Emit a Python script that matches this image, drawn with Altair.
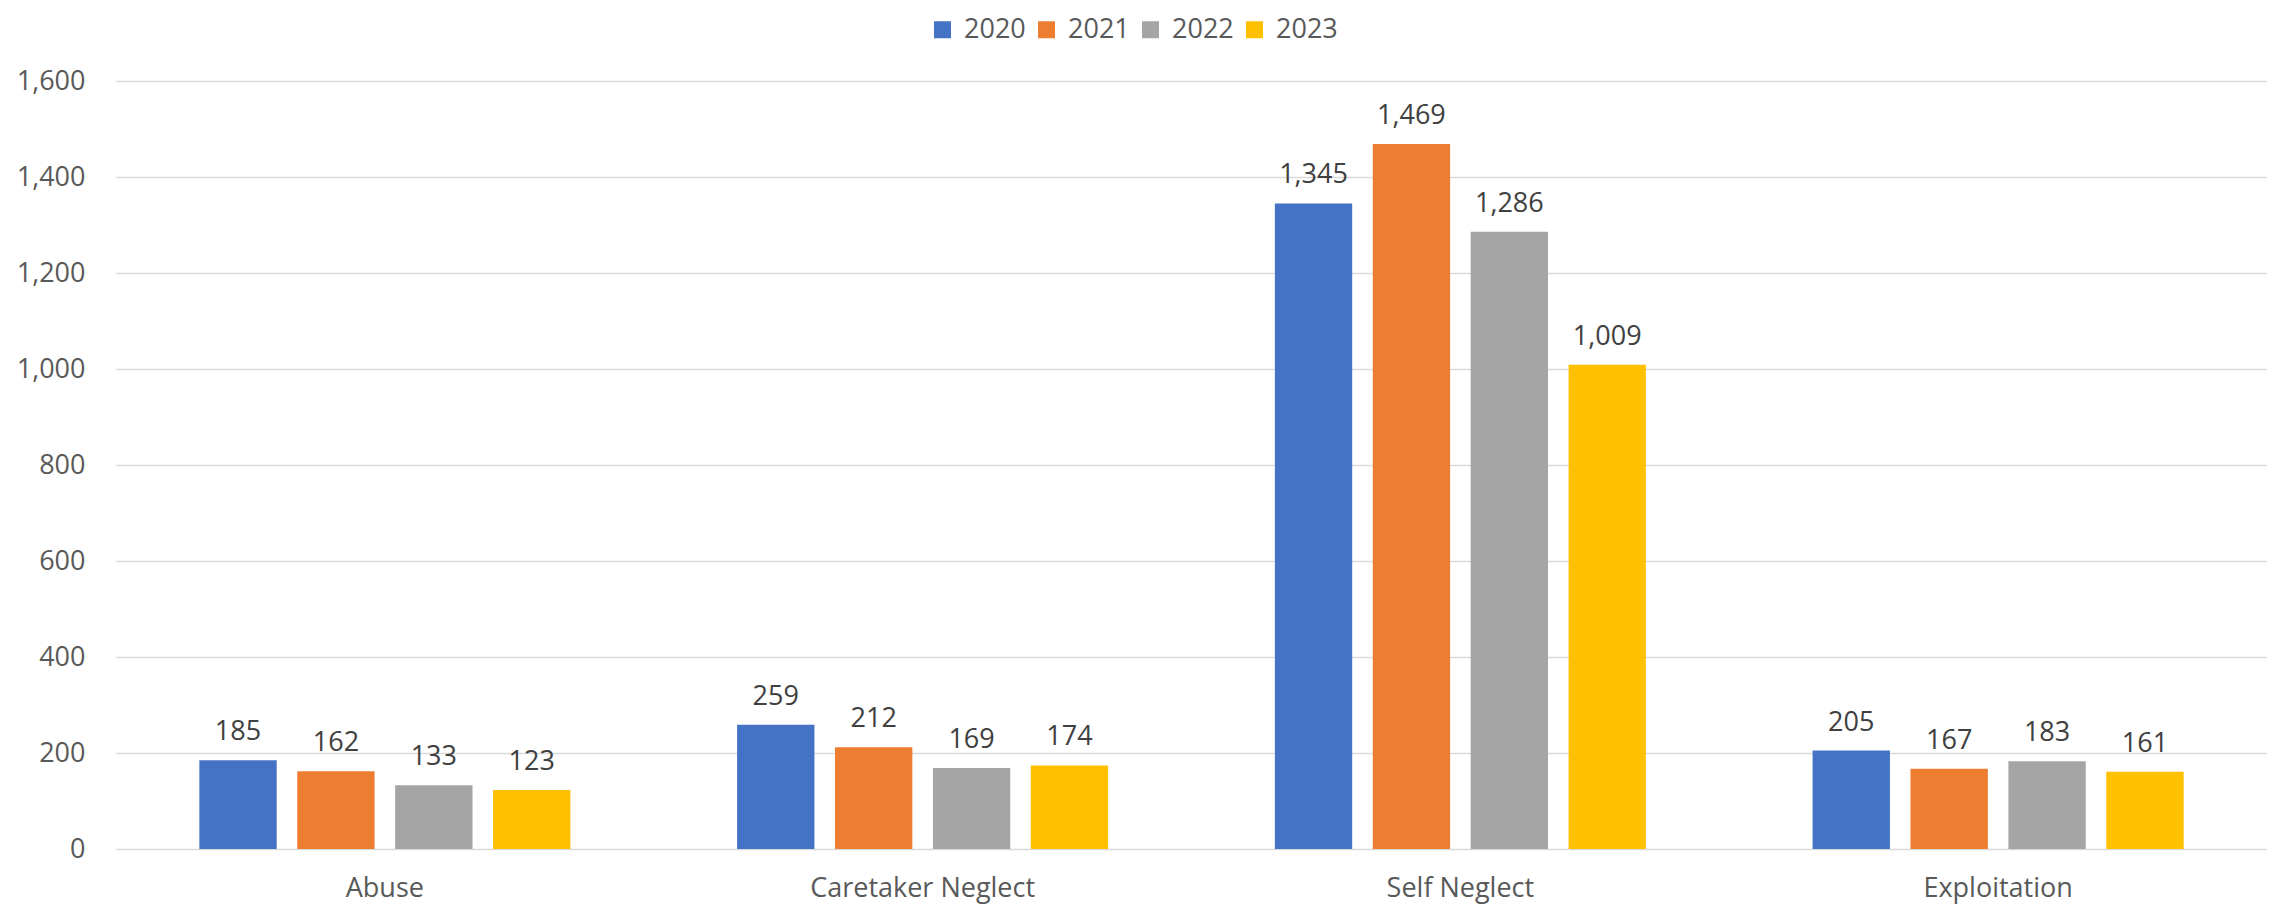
import altair as alt
import pandas as pd

categories = ["Abuse", "Caretaker Neglect", "Self Neglect", "Exploitation"]
years = ["2020", "2021", "2022", "2023"]
v2020 = [185, 259, 1345, 205]
v2021 = [162, 212, 1469, 167]
v2022 = [133, 169, 1286, 183]
v2023 = [123, 174, 1009, 161]
colors = ["#4472C4", "#ED7D31", "#A5A5A5", "#FFC000"]
y_ticks = [0, 200, 400, 600, 800, 1000, 1200, 1400, 1600]

series = {"2020": v2020, "2021": v2021, "2022": v2022, "2023": v2023}
rows = []
for y in years:
    for c, v in zip(categories, series[y]):
        rows.append({"category": c, "year": y, "value": v})
df = pd.DataFrame(rows)

FONT = "Open Sans"
FS = 27

x_enc = alt.X(
    "category:N",
    sort=categories,
    scale=alt.Scale(paddingInner=0.31, paddingOuter=0.155),
    axis=alt.Axis(
        title=None, labelAngle=0, domain=False, ticks=False, tickSize=0,
        labelPadding=26, labelFontSize=FS, labelFont=FONT, labelColor="#595959",
        labelLimit=0,
    ),
)
xo_enc = alt.XOffset("year:N", sort=years, scale=alt.Scale(paddingInner=0.21, paddingOuter=0))
y_enc = alt.Y(
    "value:Q",
    scale=alt.Scale(domain=[0, 1600], nice=False),
    axis=alt.Axis(
        title=None, values=y_ticks, format=",.0f", domain=False, ticks=False, tickSize=0,
        labelPadding=31, labelFontSize=FS, labelFont=FONT, labelColor="#595959",
        gridColor="#D9D9D9", gridWidth=1.5,
    ),
)

bars = alt.Chart(df).mark_bar().encode(
    x=x_enc,
    xOffset=xo_enc,
    y=y_enc,
    color=alt.Color(
        "year:N",
        sort=years,
        scale=alt.Scale(domain=years, range=colors),
        legend=alt.Legend(
            title=None, orient="none", direction="horizontal",
            legendX=813, legendY=-65,
            symbolType="square", symbolSize=289, symbolStrokeWidth=0,
            labelFontSize=FS, labelFont=FONT, labelColor="#595959",
            labelOffset=8, columnPadding=7, padding=0, labelLimit=0,
        ),
    ),
)

labels = alt.Chart(df).mark_text(
    dy=-20, baseline="alphabetic", fontSize=FS, font=FONT, color="#404040"
).encode(
    x=x_enc,
    xOffset=xo_enc,
    y=y_enc,
    text=alt.Text("value:Q", format=","),
)

chart = (
    alt.layer(bars, labels)
    .properties(
        width=2151,
        height=768,
        autosize=alt.AutoSizeParams(type="none"),
        padding={"left": 108, "top": 73, "right": 0, "bottom": 56},
    )
    .configure_view(stroke=None)
)

chart.save("out.html", embed_options={"renderer": "svg", "actions": False})
